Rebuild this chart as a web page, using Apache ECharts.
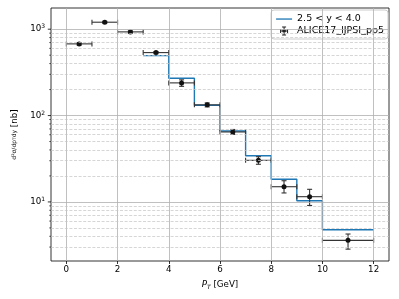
<!DOCTYPE html>
<html><head><meta charset="utf-8">
<script src="https://cdn.jsdelivr.net/npm/echarts@6/dist/echarts.min.js"></script>
<style>html,body{margin:0;padding:0;background:#fff}#c{width:399px;height:299px}</style>
</head><body><div id="c"></div><script>
// Histogram (step) : bin edges and values
const binEdges = [3, 4, 5, 6, 7, 8, 9, 10, 12];
const histValues = [494, 270, 131.5, 66.3, 34.3, 18.3, 10.3, 4.76];
// Data points with errors
const ptCenters = [0.5, 1.5, 2.5, 3.5, 4.5, 5.5, 6.5, 7.5, 8.5, 9.5, 11];
const ptHalfWidths = [0.5, 0.5, 0.5, 0.5, 0.5, 0.5, 0.5, 0.5, 0.5, 0.5, 1];
const ptValues = [676, 1205, 931, 536, 239, 133, 64.6, 30.3, 15.0, 11.5, 3.59];
const ptLow = [655, 1175, 905, 520, 218, 126, 60.5, 27.3, 12.7, 9.1, 2.84];
const ptHigh = [698, 1235, 957, 552, 259, 140, 69, 33.4, 17.6, 14.0, 4.25];
// Axis ticks
const xTicks = [0, 2, 4, 6, 8, 10, 12];
const yMajor = [10, 100, 1000];
const yMinor = [3, 4, 5, 6, 7, 8, 9, 20, 30, 40, 50, 60, 70, 80, 90, 200, 300, 400, 500, 600, 700, 800, 900];
const histName = '2.5 < y < 4.0';
const pointsName = 'ALICE17_lJPSI_pp5';

const X_MIN = -0.6, X_MAX = 12.6;
const stepData = binEdges.map((e, i) => [e, histValues[Math.min(i, histValues.length - 1)]]);
const errData = ptCenters.map((x, i) => [x, ptValues[i], ptHalfWidths[i], ptLow[i], ptHigh[i]]);
const yTickData = yMajor.map(v => [v, 1]).concat(yMinor.map(v => [v, 0]));

const FONT = 'DejaVu Sans';
const gridMarks = []
  .concat(xTicks.map(v => ({xAxis: v, lineStyle: {color: '#b0b0b0', width: 0.8, type: 'solid'}})))
  .concat(yMajor.map(v => ({yAxis: v, lineStyle: {color: '#b0b0b0', width: 0.8, type: 'solid'}})))
  .concat(yMinor.map(v => ({yAxis: v, lineStyle: {color: '#c4c4c4', width: 0.7, type: [3, 1.6]}})));

const lineIcon = 'path://M0,0L0,0M0,9L0,9M0,3.9H16V5.2H0Z';
const errIcon = 'path://M0,4.5L0,4.5M16,4.5L16,4.5' +
  'M4,4H12V5H4Z' +
  'M4,2.5H5V6.5H4Z M11,2.5H12V6.5H11Z' +
  'M7.5,0H8.5V9H7.5Z' +
  'M6,0H10V1H6Z M6,8H10V9H6Z' +
  'M6.3,3.3H9.7V5.7H6.3Z';

const chart = echarts.init(document.getElementById('c'), null, {renderer: 'canvas'});
chart.setOption({
  animation: false,
  backgroundColor: '#fff',
  textStyle: {fontFamily: FONT},
  grid: {left: 51, right: 10, top: 8, bottom: 38, show: true, borderColor: '#000', borderWidth: 0.8, backgroundColor: 'transparent'},
  legend: {
    orient: 'vertical', right: 11, top: 10,
    padding: [4, 4, 3, 5], itemGap: 2, itemWidth: 16, itemHeight: 9,
    backgroundColor: 'rgba(255,255,255,0.85)', borderColor: '#cccccc', borderWidth: 1, borderRadius: 3,
    textStyle: {fontFamily: FONT, fontSize: 9.5, color: '#000'},
    data: [
      {name: histName, icon: lineIcon, itemStyle: {color: '#1f77b4', borderWidth: 0}},
      {name: pointsName, icon: errIcon, itemStyle: {color: '#222', borderWidth: 0}}
    ]
  },
  xAxis: {
    type: 'value', min: X_MIN, max: X_MAX,
    axisLine: {show: false},
    splitLine: {show: false},
    axisTick: {show: true, customValues: xTicks, length: 3, lineStyle: {color: '#000', width: 0.8}},
    axisLabel: {customValues: xTicks, color: '#000', fontSize: 8.7, fontFamily: FONT, margin: 4},
    name: '{i|P}{s|T} [GeV]', nameLocation: 'middle', nameGap: 19,
    nameTextStyle: {color: '#000', fontSize: 8.7, fontFamily: FONT,
      rich: {i: {fontStyle: 'italic', fontSize: 8.7, fontFamily: FONT, color: '#000'},
             s: {fontStyle: 'italic', fontSize: 6, fontFamily: FONT, color: '#000', verticalAlign: 'bottom', padding: [4, 0, 0, 0]}}}
  },
  yAxis: {
    type: 'log', logBase: 10, min: 2.07, max: 1760,
    axisLine: {show: false},
    axisTick: {show: false},
    splitLine: {show: false},
    minorTick: {show: false},
    axisLabel: {
      color: '#000', fontSize: 8.7, fontFamily: FONT, margin: 6,
      formatter: function (v) {
        const e = Math.round(Math.log10(v));
        if (Math.abs(Math.log10(v) - e) > 1e-6) return '';
        return '10{sup|' + e + '}';
      },
      rich: {sup: {fontSize: 6, fontFamily: FONT, color: '#000', verticalAlign: 'top', padding: [0, 0, 5, 0]}}
    },
    name: '{f|d²σ/dp}{s|T}{f|dy} [nb]', nameLocation: 'middle', nameGap: 29, nameRotate: 90,
    nameTextStyle: {color: '#000', fontSize: 8.7, fontFamily: FONT,
      rich: {f: {fontSize: 6, fontFamily: FONT, color: '#000'},
             s: {fontSize: 4.5, fontFamily: FONT, color: '#000'}}}
  },
  series: [
    {
      name: 'grid', type: 'line', data: [], z: 0, silent: true,
      markLine: {silent: true, symbol: ['none', 'none'], label: {show: false}, animation: false, data: gridMarks}
    },
    {
      name: 'yticks', type: 'custom', data: yTickData, z: 5, silent: true, clip: false,
      renderItem: function (params, api) {
        const p = api.coord([X_MIN, api.value(0)]);
        const len = api.value(1) ? 3.2 : 1.8;
        return {type: 'line', shape: {x1: p[0] - len, y1: p[1], x2: p[0], y2: p[1]},
          style: {stroke: '#000', lineWidth: api.value(1) ? 0.8 : 0.6}};
      }
    },
    {
      name: histName, type: 'line', step: 'end', data: stepData, z: 3,
      showSymbol: false, symbol: 'none',
      lineStyle: {color: '#1f77b4', width: 1.4}, itemStyle: {color: '#1f77b4'}
    },
    {
      name: pointsName, type: 'custom', data: errData, z: 4,
      itemStyle: {color: '#222'},
      renderItem: function (params, api) {
        const x = api.value(0), y = api.value(1), hw = api.value(2), lo = api.value(3), hi = api.value(4);
        const c = api.coord([x, y]);
        const l = api.coord([x - hw, y]);
        const r = api.coord([x + hw, y]);
        const pl = api.coord([x, lo]);
        const ph = api.coord([x, hi]);
        const cap = 2.5;
        const st = {stroke: '#333', lineWidth: 1.1, fill: null};
        return {type: 'group', children: [
          {type: 'line', shape: {x1: l[0], y1: l[1], x2: r[0], y2: r[1]}, style: st},
          {type: 'line', shape: {x1: l[0], y1: l[1] - cap, x2: l[0], y2: l[1] + cap}, style: st},
          {type: 'line', shape: {x1: r[0], y1: r[1] - cap, x2: r[0], y2: r[1] + cap}, style: st},
          {type: 'line', shape: {x1: pl[0], y1: pl[1], x2: ph[0], y2: ph[1]}, style: st},
          {type: 'line', shape: {x1: pl[0] - cap, y1: pl[1], x2: pl[0] + cap, y2: pl[1]}, style: st},
          {type: 'line', shape: {x1: ph[0] - cap, y1: ph[1], x2: ph[0] + cap, y2: ph[1]}, style: st},
          {type: 'circle', shape: {cx: c[0], cy: c[1], r: 2.5}, style: {fill: '#111'}}
        ]};
      }
    }
  ]
});
</script></body></html>
